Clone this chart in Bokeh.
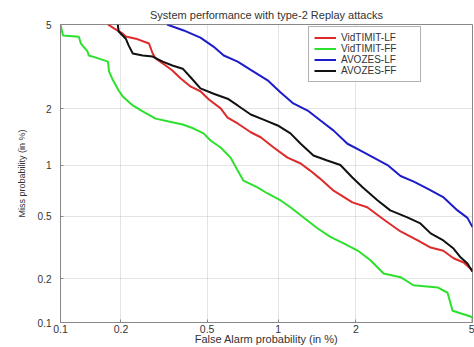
from statistics import NormalDist
from bokeh.plotting import figure
from bokeh.models import Range1d, FixedTicker, Legend, LegendItem
from bokeh.embed import file_html
from bokeh.resources import INLINE

# ---- data (percent) ----
tick_values = [0.1, 0.2, 0.5, 1, 2, 5]
tick_labels = ["0.1", "0.2", "0.5", "1", "2", "5"]

vid_lf_fa = [0.173, 0.185, 0.204, 0.211, 0.236, 0.272, 0.283, 0.292, 0.325, 0.349, 0.381, 0.423,
             0.467, 0.509, 0.573, 0.614, 0.678, 0.77, 0.847, 0.958, 1.09, 1.23, 1.34, 1.46, 1.65,
             1.94, 2.20, 2.52, 2.89, 3.31, 3.66, 4.03, 4.35, 4.69, 5.0]
vid_lf_miss = [5.0, 4.81, 4.56, 4.43, 4.33, 4.12, 3.71, 3.52, 3.26, 3.09, 2.83, 2.58,
               2.45, 2.23, 2.01, 1.80, 1.68, 1.51, 1.42, 1.25, 1.10, 1.02, 0.93, 0.84, 0.713,
               0.608, 0.568, 0.479, 0.404, 0.355, 0.32, 0.305, 0.273, 0.256, 0.227]

vid_ff_fa = [0.100, 0.103, 0.124, 0.127, 0.137, 0.139, 0.151, 0.173, 0.175, 0.183, 0.195, 0.204,
             0.228, 0.254, 0.292, 0.336, 0.389, 0.436, 0.482, 0.519, 0.573, 0.632, 0.678, 0.718,
             0.821, 0.905, 1.023, 1.12, 1.23, 1.43, 1.61, 1.80, 2.03, 2.26, 2.52, 2.89, 3.20,
             3.86, 4.16, 4.32, 4.82, 5.0, 5.0]
vid_ff_miss = [5.0, 4.47, 4.42, 4.11, 3.79, 3.63, 3.55, 3.40, 3.06, 2.77, 2.47, 2.31,
               2.08, 1.94, 1.78, 1.72, 1.66, 1.58, 1.49, 1.36, 1.25, 1.10, 0.93, 0.815,
               0.744, 0.686, 0.624, 0.568, 0.508, 0.423, 0.372, 0.340, 0.306, 0.265, 0.217, 0.205, 0.181,
               0.175, 0.161, 0.121, 0.112, 0.109, 0.1]

avo_lf_fa = [0.33, 0.393, 0.467, 0.533, 0.591, 0.678, 0.77, 0.905, 1.02, 1.15, 1.31, 1.47,
             1.65, 1.86, 2.08, 2.32, 2.60, 2.89, 3.21, 3.57, 4.04, 4.48, 4.82, 5.0]
avo_lf_miss = [5.0, 4.71, 4.38, 3.99, 3.63, 3.40, 3.11, 2.77, 2.42, 2.13, 1.96, 1.74,
               1.54, 1.31, 1.20, 1.10, 1.00, 0.866, 0.805, 0.733, 0.65, 0.544, 0.49, 0.43]

avo_ff_fa = [0.193, 0.195, 0.211, 0.218, 0.228, 0.254, 0.283, 0.315, 0.349, 0.389, 0.423, 0.467,
             0.534, 0.614, 0.678, 0.77, 0.87, 0.995, 1.12, 1.23, 1.38, 1.56, 1.75, 1.94, 2.12,
             2.40, 2.66, 3.05, 3.38, 3.66, 4.03, 4.35, 4.59, 4.82, 5.0]
avo_ff_miss = [5.0, 4.66, 4.33, 4.03, 3.71, 3.63, 3.59, 3.40, 3.26, 3.15, 2.86, 2.53,
               2.38, 2.25, 2.08, 1.87, 1.76, 1.64, 1.49, 1.31, 1.13, 1.06, 1.00, 0.85, 0.743,
               0.624, 0.544, 0.493, 0.453, 0.393, 0.355, 0.315, 0.276, 0.252, 0.223]

series_names = ["VidTIMIT-LF", "VidTIMIT-FF", "AVOZES-LF", "AVOZES-FF"]
series_colors = ["#dd2a2a", "#2ee02e", "#1c1cc8", "#111111"]

# ---- normal-deviate (DET) scale ----
nd = NormalDist()
def probit(v):
    return nd.inv_cdf(v / 100.0)

FONT = "Liberation Sans"
TXT = "#333333"

p = figure(width=474, height=347, output_backend="svg", toolbar_location=None,
           x_range=Range1d(probit(0.1), probit(5)), y_range=Range1d(probit(0.1), probit(5)),
           min_border_left=60, min_border_right=2, min_border_top=24, min_border_bottom=0)

p.title.text = "System performance with type-2 Replay attacks"
p.title.align = "center"
p.title.text_font = FONT
p.title.text_font_size = "11px"
p.title.text_font_style = "normal"
p.title.text_color = TXT
p.title.standoff = 7
p.title.offset = 0

ticks = [probit(v) for v in tick_values]
overrides = {t: l for t, l in zip(ticks, tick_labels)}
for ax in (p.xaxis[0], p.yaxis[0]):
    ax.ticker = FixedTicker(ticks=ticks)
    ax.major_label_overrides = overrides
    ax.major_label_text_font = FONT
    ax.major_label_text_color = TXT
    ax.axis_label_text_font = FONT
    ax.axis_label_text_font_style = "normal"
    ax.axis_label_text_color = TXT
    ax.axis_line_color = "#888888"
    ax.major_tick_line_color = "#888888"
    ax.major_tick_in = 3
    ax.major_tick_out = 0
    ax.minor_tick_line_color = None

p.xaxis.axis_label = "False Alarm probability (in %)"
p.yaxis.axis_label = "Miss probability (in %)"
p.xaxis.major_label_text_font_size = "10.5px"
p.xaxis.axis_label_text_font_size = "11px"
p.yaxis.major_label_text_font_size = "10px"
p.yaxis.axis_label_text_font_size = "9px"
p.yaxis.major_label_orientation = "horizontal"
p.yaxis.major_label_standoff = 9
p.yaxis.axis_label_standoff = 8
p.xaxis.major_label_standoff = 2
p.xaxis.axis_label_standoff = -3

p.xgrid.ticker = FixedTicker(ticks=ticks)
p.ygrid.ticker = FixedTicker(ticks=ticks)
p.grid.grid_line_color = "#c8c8c8"
p.grid.grid_line_dash = "1 1"
p.grid.grid_line_width = 1
p.outline_line_color = "#888888"

data = [(vid_lf_fa, vid_lf_miss), (vid_ff_fa, vid_ff_miss),
        (avo_lf_fa, avo_lf_miss), (avo_ff_fa, avo_ff_miss)]
items = []
for (fa, miss), name, col in zip(data, series_names, series_colors):
    r = p.line([probit(v) for v in fa], [probit(v) for v in miss],
               line_color=col, line_width=2)
    items.append(LegendItem(label=name, renderers=[r]))

legend = Legend(items=items, location=(248, 240))
legend.label_text_font = FONT
legend.label_text_font_size = "10px"
legend.label_text_color = TXT
legend.glyph_width = 22
legend.glyph_height = 9
legend.label_height = 9
legend.label_width = 74
legend.label_standoff = 5
legend.spacing = -1
legend.padding = 5
legend.margin = 0
legend.border_line_color = "#666666"
legend.background_fill_alpha = 1
p.add_layout(legend)

open("out.html", "w").write(file_html(p, INLINE))
